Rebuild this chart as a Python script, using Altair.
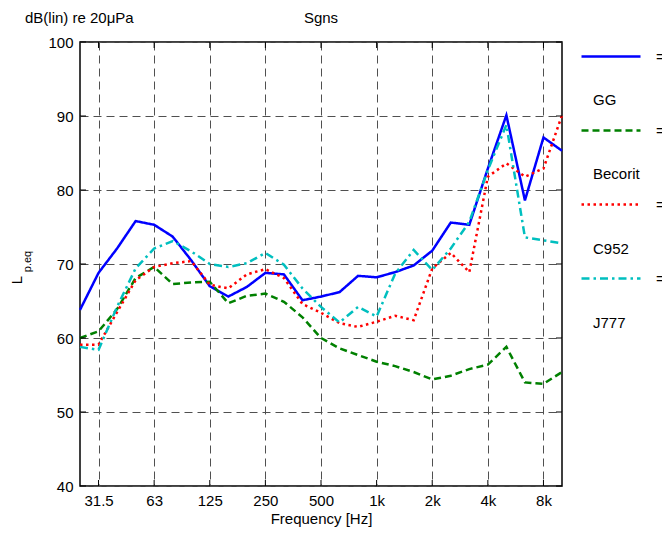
import altair as alt
import pandas as pd

bands = ["25", "31.5", "40", "50", "63", "80", "100", "125", "160", "200", "250",
         "315", "400", "500", "630", "800", "1k", "1.25k", "1.6k", "2k", "2.5k",
         "3.15k", "4k", "5k", "6.3k", "8k", "10k"]
octave_ticks = ["31.5", "63", "125", "250", "500", "1k", "2k", "4k", "8k"]

series_names = ["GG", "Becorit", "C952", "J777"]
series_colors = ["#0000FF", "#008000", "#FF0000", "#00BFBF"]
series_dashes = [[1, 0], [7, 4], [2.5, 3.5], [8, 4, 2.5, 4]]

gg = [63.8, 68.8, 72.1, 75.8, 75.3, 73.7, 70.5, 67.0, 65.6, 66.9, 68.8, 68.6, 65.1, 65.6,
      66.2, 68.4, 68.2, 68.9, 69.8, 71.8, 75.6, 75.3, 82.9, 90.1, 78.6, 87.1, 85.3]
becorit = [60.0, 60.9, 63.9, 68.1, 69.6, 67.3, 67.5, 67.6, 64.7, 65.7, 66.0, 64.9, 62.8, 60.0,
           58.6, 57.7, 56.8, 56.2, 55.4, 54.4, 54.9, 55.8, 56.4, 58.8, 54.0, 53.8, 55.4]
c952 = [59.1, 59.1, 63.5, 67.8, 69.6, 70.1, 70.4, 67.2, 66.7, 68.6, 69.3, 68.1, 64.6, 63.4,
        62.0, 61.5, 62.2, 63.0, 62.4, 69.4, 71.5, 68.9, 81.8, 83.6, 81.8, 82.9, 90.1]
j777 = [58.8, 58.4, 64.2, 69.4, 72.1, 73.1, 71.7, 70.0, 69.6, 70.1, 71.5, 69.9, 66.7, 64.2,
        62.1, 64.2, 62.9, 68.7, 71.9, 69.2, 72.1, 75.7, 82.7, 88.8, 73.6, 73.2, 72.8]

y_ticks = [40, 50, 60, 70, 80, 90, 100]

rows = []
for k, (name, vals) in enumerate(zip(series_names, [gg, becorit, c952, j777])):
    for b, v in zip(bands, vals):
        rows.append({"band": b, "value": v, "series": name, "order": k})
df = pd.DataFrame(rows)

FONT = "Liberation Sans"
W, H = 482, 444
TICK = 6

x_scale = alt.Scale(type="point", padding=0, domain=bands)
y_scale = alt.Scale(domain=[40, 100], nice=False, zero=False)
x_axis = alt.Axis(values=octave_ticks, title="Frequency [Hz]", labelAngle=0,
                  grid=True, ticks=False, domain=False, labelPadding=7, titlePadding=3)
y_axis = alt.Axis(values=y_ticks, title=None, grid=True, ticks=False,
                  domain=False, labelPadding=7)

legend_opts = dict(orient="none", legendX=500, legendY=-16.5, title=None,
                   symbolType="stroke", symbolSize=3481, symbolStrokeWidth=2.5,
                   labelExpr="'='", labelFontSize=15, labelFont=FONT, labelColor="#000",
                   labelOffset=14, rowPadding=35, padding=0)

lines = alt.Chart(df).mark_line(strokeWidth=2.5, clip=False).encode(
    x=alt.X("band:O", sort=bands, scale=x_scale, axis=x_axis),
    y=alt.Y("value:Q", scale=y_scale, axis=y_axis),
    color=alt.Color("series:N", sort=series_names,
                    scale=alt.Scale(domain=series_names, range=series_colors),
                    legend=alt.Legend(**legend_opts)),
    strokeDash=alt.StrokeDash("series:N", sort=series_names,
                              scale=alt.Scale(domain=series_names, range=series_dashes),
                              legend=alt.Legend(**legend_opts)),
    detail="series:N",
    order="order:Q",
)

# inward tick marks on all four sides of the frame
xt = pd.DataFrame({"band": octave_ticks})
yt = pd.DataFrame({"value": y_ticks})
tick_style = dict(color="#000", strokeWidth=1)
ticks_bottom = alt.Chart(xt).mark_rule(**tick_style).encode(
    x=alt.X("band:O", sort=bands, scale=x_scale, axis=x_axis),
    y=alt.value(H), y2=alt.value(H - TICK))
ticks_top = alt.Chart(xt).mark_rule(**tick_style).encode(
    x=alt.X("band:O", sort=bands, scale=x_scale, axis=x_axis),
    y=alt.value(0), y2=alt.value(TICK))
ticks_left = alt.Chart(yt).mark_rule(**tick_style).encode(
    y=alt.Y("value:Q", scale=y_scale, axis=y_axis),
    x=alt.value(0), x2=alt.value(TICK))
ticks_right = alt.Chart(yt).mark_rule(**tick_style).encode(
    y=alt.Y("value:Q", scale=y_scale, axis=y_axis),
    x=alt.value(W - TICK), x2=alt.value(W))

layers = [lines, ticks_bottom, ticks_top, ticks_left, ticks_right]

def text_layer(txt, x, y, size=15, align="left", angle=0):
    return alt.Chart(pd.DataFrame({"t": [txt]})).mark_text(
        font=FONT, fontSize=size, align=align, baseline="middle", angle=angle,
        color="#000"
    ).encode(text="t:N", x=alt.value(x), y=alt.value(y))

layers.append(text_layer("dB(lin) re 20\u03bcPa", -55, -24))
layers.append(text_layer("Sgns", 241, -24, align="center"))
layers.append(text_layer("L", -63, 238, align="center", angle=270))
layers.append(text_layer("p.eq", -52, 219.5, size=11, align="center", angle=270))
for i, name in enumerate(series_names):
    layers.append(text_layer(name, 513, 58 + 74.3 * i))

chart = alt.layer(*layers).properties(
    width=W, height=H,
    autosize=alt.AutoSizeParams(type="none"),
    padding={"left": 72, "top": 34, "right": 100, "bottom": 42},
).configure_view(
    stroke="#000", strokeWidth=1.5
).configure_axis(
    labelFont=FONT, labelFontSize=15, labelColor="#000",
    titleFont=FONT, titleFontSize=15, titleFontWeight="normal", titleColor="#000",
    gridColor="#505050", gridDash=[8, 5], gridWidth=1, gridOpacity=1
)

chart.save("out.html", embed_options={"renderer": "svg", "actions": False})
